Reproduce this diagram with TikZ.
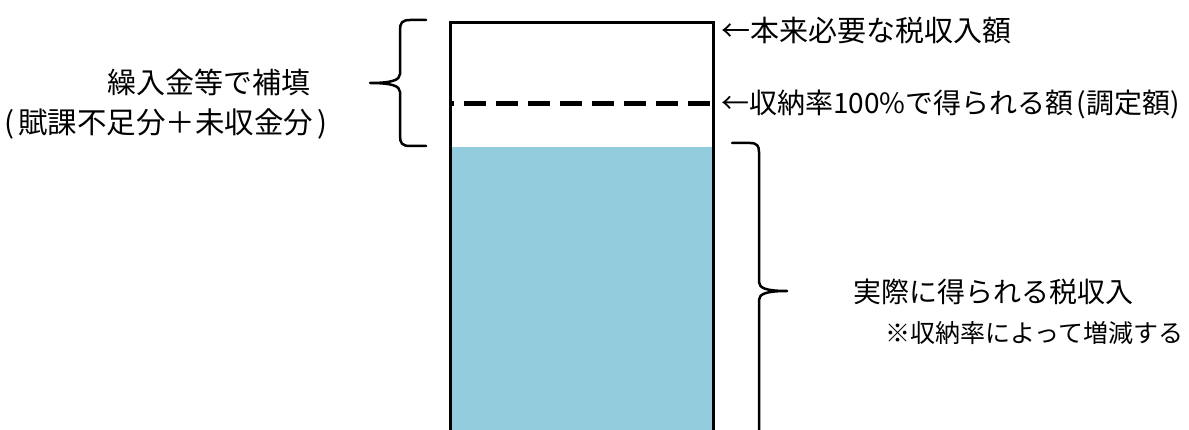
\documentclass[tikz,border=0pt]{standalone}
\usepackage{fontspec}
\newfontfamily\jp{Noto Sans CJK JP}
\definecolor{taxblue}{HTML}{93CDDD}
\tikzset{
  lbl/.style={font=\jp\fontsize{29}{34}\selectfont, inner sep=0pt, anchor=west},
  note/.style={font=\jp\fontsize{25}{30}\selectfont, inner sep=0pt, anchor=west},
  curly/.style={line width=2.5pt, line join=round, line cap=round},
}
\begin{document}
\begin{tikzpicture}[x=1pt, y=-1pt]
            \useasboundingbox (0,0) rectangle (1189,430);
            \clip (0,0) rectangle (1189,430);
            % tank of tax revenue
            \fill[taxblue] (450,147) rectangle (713,435);
            \draw[line width=3pt] (450,435) -- (450,22.5) -- (713,22.5) -- (713,435);
            \draw[line width=5pt, dash pattern=on 22pt off 10pt, dash phase=18pt] (450,104) -- (713,104);
            % braces
            \draw[curly] (426,20) -- (410,20) .. controls (402,20) and (400,23) .. (400,30) -- (400,74)
                .. controls (400,80) and (392,83) .. (370,83) .. controls (392,83) and (400,86) .. (400,92)
                -- (400,136) .. controls (400,143) and (402,146) .. (410,146) -- (426,146);
            \draw[curly] (732,143) -- (750,143) .. controls (757,143) and (759,146) .. (759,152) -- (759,282)
                .. controls (759,288) and (766,291) .. (787,291) .. controls (766,291) and (759,294) .. (759,300)
                -- (759,440);
            % labels
            \node[lbl] (full) at (721,30) {←本来必要な税収入額};
            \node[lbl, font=\jp\fontsize{28}{34}\selectfont] (levy) at (721,104) {←収納率100\%で得られる額\hspace{3pt}(調定額)};
            \node[lbl] (subsidy) at (107,82) {繰入金等で補填};
            \node[lbl, font=\jp\fontsize{29.5}{34}\selectfont] (subsidysub) at (4,124) {(\hspace{4pt}賦課不足分＋未収金分\hspace{4pt})};
            \node[lbl, font=\jp\fontsize{28}{34}\selectfont] (actual) at (853,292) {実際に得られる税収入};
            \node[note] (actualsub) at (885,333) {※収納率によって増減する};
\end{tikzpicture}
\end{document}
